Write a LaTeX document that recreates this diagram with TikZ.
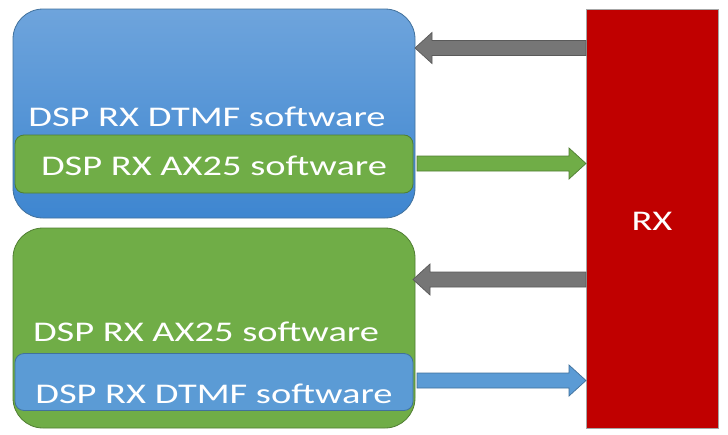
\documentclass[tikz,border=0pt]{standalone}
\usepackage{fontspec}
\usepackage{graphicx}
\setmainfont{Carlito}
\usetikzlibrary{calc}
\definecolor{bluetop}{RGB}{110,164,220}
\definecolor{bluebot}{RGB}{62,134,208}
\definecolor{blueedge}{RGB}{65,113,156}
\definecolor{bluein}{RGB}{91,155,213}
\definecolor{greenfill}{RGB}{112,173,71}
\definecolor{greenedge}{RGB}{80,126,50}
\definecolor{rxred}{RGB}{192,0,0}
\definecolor{grayfill}{RGB}{118,118,118}
\definecolor{grayedge}{RGB}{90,90,90}
\newcommand\txt[1]{\scalebox{1.35}[1]{#1}}
\tikzset{
  outerbox/.style={draw, line width=0.8pt, rounded corners=30pt, minimum width=402pt, inner sep=0pt},
  innerbox/.style={draw, line width=0.8pt, rounded corners=9pt, minimum width=398pt, inner sep=0pt},
  lbl/.style={text=white, anchor=base, inner sep=0pt, font=\fontsize{28.5}{32}\selectfont},
  barrow/.style={line width=0.7pt, to path={
    ($(\tikztostart)!7.5pt!90:(\tikztotarget)$) --
    ($(\tikztotarget)!17pt!(\tikztostart)!7.5pt!-90:(\tikztostart)$) --
    ($(\tikztotarget)!17pt!(\tikztostart)!15.5pt!-90:(\tikztostart)$) --
    (\tikztotarget) --
    ($(\tikztotarget)!17pt!(\tikztostart)!15.5pt!90:(\tikztostart)$) --
    ($(\tikztotarget)!17pt!(\tikztostart)!7.5pt!90:(\tikztostart)$) --
    ($(\tikztostart)!7.5pt!-90:(\tikztotarget)$) -- cycle}}
}
\begin{document}
\begin{tikzpicture}[x=1pt,y=-1pt]
\useasboundingbox[fill=white] (0,0) rectangle (728,434);
% top group
\node[outerbox, draw=blueedge, top color=bluetop, bottom color=bluebot, minimum height=209pt] (top) at (214,113.5) {};
\node[innerbox, draw=greenedge, fill=greenfill, minimum height=58pt] (topin) at (214,164) {};
\node[lbl] (toplbl) at (207,126) {\txt{DSP RX DTMF software}};
\node[lbl] (topinlbl) at (214,175) {\txt{DSP RX AX25 software}};
% bottom group
\node[outerbox, draw=greenedge, fill=greenfill, minimum height=200pt] (bot) at (214,328) {};
\node[innerbox, draw=blueedge, fill=bluein, minimum height=57pt] (botin) at (214,382) {};
\node[lbl] (botlbl) at (206,341) {\txt{DSP RX AX25 software}};
\node[lbl] (botinlbl) at (214,403) {\txt{DSP RX DTMF software}};
% RX
\node[draw=gray!70, line width=0.6pt, fill=rxred, minimum width=132pt, minimum height=419pt, inner sep=0pt] (rx) at (652,218.5) {};
\node[lbl] (rxlbl) at (652,230) {\txt{RX}};
% arrow ends
\coordinate (g1s) at (586,48);
\coordinate (g1e) at (415,48);
\coordinate (a1s) at (417,163.5);
\coordinate (a1e) at (586,163.5);
\coordinate (g2s) at (586,279.5);
\coordinate (g2e) at (413,279.5);
\coordinate (b1s) at (417,380.5);
\coordinate (b1e) at (586,380.5);
\draw[barrow, draw=grayedge, fill=grayfill] (g1s) to (g1e);
\draw[barrow, draw=greenedge, fill=greenfill] (a1s) to (a1e);
\draw[barrow, draw=grayedge, fill=grayfill] (g2s) to (g2e);
\draw[barrow, draw=blueedge, fill=bluein] (b1s) to (b1e);
\end{tikzpicture}
\end{document}
